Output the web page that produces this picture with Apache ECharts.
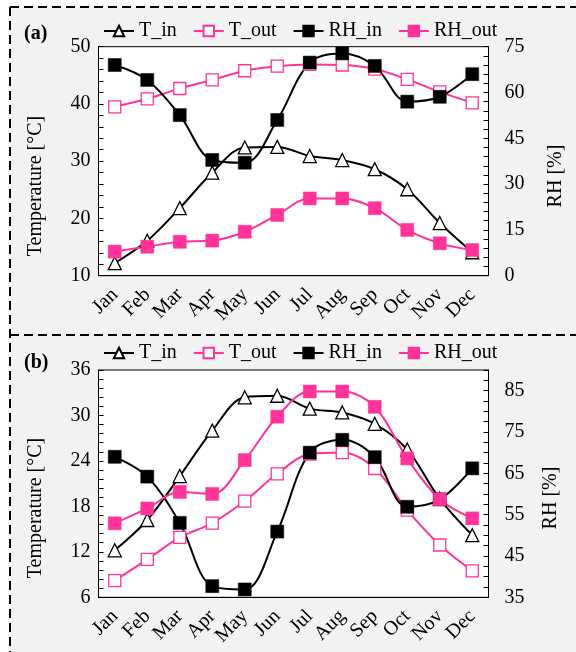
<!DOCTYPE html>
<html>
<head>
<meta charset="utf-8">
<script src="https://cdn.jsdelivr.net/npm/echarts@6/dist/echarts.min.js"></script>
<style>html,body{margin:0;padding:0;background:#fff}#c{width:576px;height:652px}</style>
</head>
<body>
<div id="c"></div>
<script>
var months = ['Jan','Feb','Mar','Apr','May','Jun','Jul','Aug','Sep','Oct','Nov','Dec'];
var seriesNames = ['T_in','T_out','RH_in','RH_out'];
// Panel (a)
var aTin   = [12.2, 16.1, 21.8, 28.0, 32.4, 32.5, 30.9, 30.2, 28.6, 25.1, 19.2, 14.1];
var aTout  = [39.5, 40.9, 42.7, 44.2, 45.8, 46.6, 46.9, 46.8, 46.1, 44.3, 42.1, 40.2];
var aRHin  = [69.0, 64.1, 52.6, 37.9, 37.0, 51.0, 69.8, 72.8, 68.7, 57.0, 58.6, 66.0];
var aRHout = [7.9, 9.5, 11.1, 11.5, 14.4, 19.9, 25.3, 25.3, 22.1, 15.0, 10.6, 8.4];
// Panel (b)
var bTin   = [12.2, 16.2, 22.0, 28.0, 32.4, 32.6, 30.9, 30.4, 28.9, 25.5, 19.0, 14.2];
var bTout  = [8.2, 11.0, 13.9, 15.8, 18.7, 22.3, 24.9, 25.1, 23.0, 17.5, 12.9, 9.5];
var bRHin  = [69.0, 64.2, 53.0, 37.7, 36.9, 50.9, 70.0, 73.1, 68.9, 56.9, 58.7, 66.2];
var bRHout = [52.9, 56.5, 60.5, 60.0, 68.2, 78.7, 84.8, 84.8, 81.1, 68.6, 58.7, 54.1];
// Axis ranges
var aLeft = {min: 10, max: 50, interval: 10};
var aRight = {min: 0, max: 75, interval: 15};
var bLeft = {min: 6, max: 36, interval: 6};
var bRight = {min: 35, max: 90, interval: 5};

var FONT = 'Liberation Serif';
var PINK = '#ff3399';
var SMOOTH = 0.35;

function styleFor(name) {
  if (name === 'T_in') return {symbol: 'triangle', symbolSize: 13, itemStyle: {color: '#fff', borderColor: '#000', borderWidth: 1.3}, lineStyle: {color: '#000', width: 2}};
  if (name === 'T_out') return {symbol: 'rect', symbolSize: 12, itemStyle: {color: '#fff', borderColor: PINK, borderWidth: 1.3}, lineStyle: {color: PINK, width: 2}};
  if (name === 'RH_in') return {symbol: 'rect', symbolSize: 13, itemStyle: {color: '#000', borderColor: '#000', borderWidth: 0.5}, lineStyle: {color: '#000', width: 2}};
  return {symbol: 'rect', symbolSize: 13, itemStyle: {color: PINK, borderColor: PINK, borderWidth: 0.5}, lineStyle: {color: PINK, width: 2}};
}
function mk(name, data, xi, yi) {
  var s = styleFor(name);
  return {name: name, type: 'line', xAxisIndex: xi, yAxisIndex: yi, data: data, smooth: SMOOTH,
    symbol: s.symbol, symbolSize: s.symbolSize, showAllSymbol: true, itemStyle: s.itemStyle, lineStyle: s.lineStyle,
    emphasis: {disabled: true}, animation: false};
}
function xAx(gi) {
  return {type: 'category', gridIndex: gi, data: months, boundaryGap: true,
    axisLine: {show: true, lineStyle: {color: '#000', width: 1}}, axisTick: {show: false},
    axisLabel: {rotate: 45, interval: 0, margin: 16, fontFamily: FONT, fontSize: 20, color: '#000'},
    splitLine: {show: false}};
}
function yAx(gi, r, pos, split, margin, fmt) {
  var o = {type: 'value', gridIndex: gi, position: pos, min: r.min, max: r.max, interval: r.interval,
    axisLine: {show: true, lineStyle: {color: '#000', width: 1}},
    axisTick: {show: true, inside: true, length: 5, lineStyle: {color: '#000', width: 1}},
    minorTick: {show: true, splitNumber: split, length: 5, lineStyle: {color: '#000', width: 1}},
    splitLine: {show: false}, minorSplitLine: {show: false},
    axisLabel: {margin: margin, fontFamily: FONT, fontSize: 20, color: '#000'}};
  if (fmt) o.axisLabel.formatter = fmt;
  return o;
}
function legendAt(top) {
  return {data: seriesNames, left: 103, top: top, padding: 0, itemWidth: 30, itemHeight: 13, itemGap: 16,
    selectedMode: false, textStyle: {fontFamily: FONT, fontSize: 20, color: '#000'}};
}
function txt(x, y, s, opts) {
  return {type: 'text', x: x, y: y, rotation: opts.rot || 0, z: 100,
    style: {text: s, fontFamily: FONT, fontSize: opts.size || 20, fontWeight: opts.bold ? 'bold' : 'normal', fill: '#000',
      textAlign: opts.align || 'center', textVerticalAlign: 'middle'}};
}
function dash(x1, y1, x2, y2) {
  return {type: 'line', z: 50, shape: {x1: x1, y1: y1, x2: x2, y2: y2}, style: {stroke: '#000', lineWidth: 2, lineDash: [9, 5]}};
}

var chart = echarts.init(document.getElementById('c'), null, {renderer: 'canvas'});
chart.setOption({
  animation: false,
  backgroundColor: '#fff',
  graphic: [
    {type: 'rect', z: -100, shape: {x: 10, y: 7, width: 566, height: 645}, style: {fill: '#f2f2f2'}},
    dash(10, 7, 576, 7), dash(10, 7, 10, 652), dash(10, 335, 576, 335),
    txt(24, 34, '(a)', {bold: true, align: 'left'}),
    txt(24, 363, '(b)', {bold: true, align: 'left'}),
    txt(36, 186, 'Temperature [°C]', {rot: Math.PI / 2}),
    txt(556, 176, 'RH [%]', {rot: Math.PI / 2}),
    txt(36, 508, 'Temperature [°C]', {rot: Math.PI / 2}),
    txt(551, 498, 'RH [%]', {rot: Math.PI / 2})
  ],
  legend: [legendAt(21), legendAt(343)],
  grid: [
    {left: 98.5, top: 46.7, width: 390, height: 229, show: true, backgroundColor: '#fff', borderColor: '#000', borderWidth: 1, containLabel: false},
    {left: 98.5, top: 370, width: 390, height: 227.3, show: true, backgroundColor: '#fff', borderColor: '#000', borderWidth: 1, containLabel: false}
  ],
  xAxis: [xAx(0), xAx(1)],
  yAxis: [
    yAx(0, aLeft, 'left', 5, 8),
    yAx(0, aRight, 'right', 5, 16),
    yAx(1, bLeft, 'left', 5, 8),
    yAx(1, bRight, 'right', 2, 16, function (v) { return ((v - 35) % 10 === 0 && v < 90) ? String(v) : ''; })
  ],
  series: [
    mk('T_in', aTin, 0, 0), mk('T_out', aTout, 0, 0), mk('RH_in', aRHin, 0, 1), mk('RH_out', aRHout, 0, 1),
    mk('T_in', bTin, 1, 2), mk('T_out', bTout, 1, 2), mk('RH_in', bRHin, 1, 3), mk('RH_out', bRHout, 1, 3)
  ]
});
</script>
</body>
</html>
